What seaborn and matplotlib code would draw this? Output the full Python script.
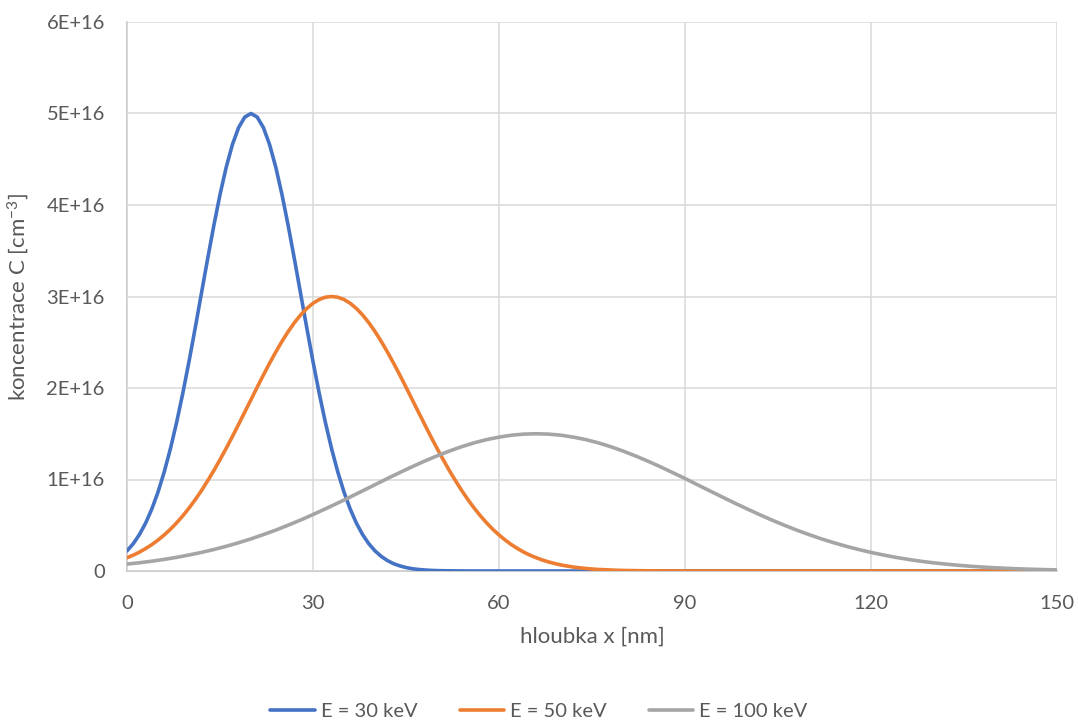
import matplotlib
matplotlib.use("Agg")
import matplotlib.pyplot as plt
from matplotlib.ticker import FuncFormatter
from matplotlib.lines import Line2D
import seaborn as sns
import pandas as pd

# depth grids in nm: 1 nm steps near the surface, 2 nm deeper down
depth_fine = list(range(0, 81)) + list(range(82, 151, 2))
depth_coarse = list(range(0, 151, 2))

# implanted concentration profiles, in units of 1E16 cm^-3
conc_30kev = [
    0.220, 0.298, 0.398, 0.523, 0.677, 0.862, 1.082, 1.336, 1.623, 1.943,
    2.289, 2.656, 3.033, 3.410, 3.774, 4.113, 4.412, 4.660, 4.846, 4.961,
    5.000, 4.961, 4.846, 4.660, 4.412, 4.113, 3.774, 3.410, 3.033, 2.656,
    2.289, 1.943, 1.623, 1.336, 1.082, 0.862, 0.677, 0.523, 0.398, 0.298,
    0.220, 0.160, 0.114, 0.080, 0.056, 0.038, 0.025, 0.017, 0.011, 0.007,
    0.004, 0.003, 0.002, 0.001, 0.001, 0.0, 0.0, 0.0, 0.0, 0.0,
    0.0, 0.0, 0.0, 0.0, 0.0, 0.0, 0.0, 0.0, 0.0, 0.0,
    0.0, 0.0, 0.0, 0.0, 0.0, 0.0, 0.0, 0.0, 0.0, 0.0,
    0.0,
    0.0, 0.0, 0.0, 0.0, 0.0, 0.0, 0.0, 0.0, 0.0, 0.0,
    0.0, 0.0, 0.0, 0.0, 0.0, 0.0, 0.0, 0.0, 0.0, 0.0,
    0.0, 0.0, 0.0, 0.0, 0.0, 0.0, 0.0, 0.0, 0.0, 0.0,
    0.0, 0.0, 0.0, 0.0, 0.0,
]
conc_50kev = [
    0.145, 0.173, 0.206, 0.245, 0.288, 0.338, 0.394, 0.456, 0.526, 0.603,
    0.687, 0.779, 0.878, 0.985, 1.097, 1.217, 1.341, 1.470, 1.603, 1.738,
    1.873, 2.009, 2.142, 2.271, 2.394, 2.510, 2.617, 2.714, 2.798, 2.869,
    2.926, 2.967, 2.992, 3.000, 2.992, 2.967, 2.926, 2.869, 2.798, 2.714,
    2.617, 2.510, 2.394, 2.271, 2.142, 2.009, 1.873, 1.738, 1.603, 1.470,
    1.341, 1.217, 1.097, 0.985, 0.878, 0.779, 0.687, 0.603, 0.526, 0.456,
    0.394, 0.338, 0.288, 0.245, 0.206, 0.173, 0.145, 0.120, 0.099, 0.081,
    0.066, 0.054, 0.043, 0.035, 0.028, 0.022, 0.017, 0.014, 0.011, 0.008,
    0.006,
    0.004, 0.002, 0.001, 0.001, 0.0, 0.0, 0.0, 0.0, 0.0, 0.0,
    0.0, 0.0, 0.0, 0.0, 0.0, 0.0, 0.0, 0.0, 0.0, 0.0,
    0.0, 0.0, 0.0, 0.0, 0.0, 0.0, 0.0, 0.0, 0.0, 0.0,
    0.0, 0.0, 0.0, 0.0, 0.0,
]
conc_100kev = [
    0.076, 0.090, 0.107, 0.127, 0.149, 0.175, 0.203, 0.235, 0.270, 0.309,
    0.351, 0.398, 0.447, 0.501, 0.557, 0.617, 0.679, 0.743, 0.809, 0.876,
    0.943, 1.011, 1.076, 1.140, 1.201, 1.258, 1.311, 1.359, 1.401, 1.436,
    1.463, 1.484, 1.496, 1.500, 1.496, 1.484, 1.463, 1.436, 1.401, 1.359,
    1.311, 1.258, 1.201, 1.140, 1.076, 1.011, 0.943, 0.876, 0.809, 0.743,
    0.679, 0.617, 0.557, 0.501, 0.447, 0.398, 0.351, 0.309, 0.270, 0.235,
    0.203, 0.175, 0.149, 0.127, 0.107, 0.090, 0.076, 0.063, 0.052, 0.043,
    0.035, 0.029, 0.023, 0.019, 0.015, 0.012,
]
UNIT = 1e16

series_names = ["E = 30 keV", "E = 50 keV", "E = 100 keV"]
series_colors = ["#4472C4", "#ED7D31", "#A5A5A5"]
x_ticks = [0, 30, 60, 90, 120, 150]
y_ticks = [0, 1e16, 2e16, 3e16, 4e16, 5e16, 6e16]

frames = []
for name, xs, vals in zip(series_names,
                          [depth_fine, depth_fine, depth_coarse],
                          [conc_30kev, conc_50kev, conc_100kev]):
    frames.append(pd.DataFrame({
        "depth": xs,
        "conc": [v * UNIT for v in vals],
        "series": name,
    }))
df = pd.concat(frames, ignore_index=True)

sns.set_theme(style="white")
plt.rcParams["font.family"] = ["Lato", "DejaVu Sans"]
plt.rcParams["mathtext.default"] = "regular"

text_color = "#595959"
grid_color = "#D9D9D9"
line_w = 2.6

fig = plt.figure(figsize=(10.78, 7.23), dpi=100)
ax = fig.add_axes([127 / 1078, 1 - 571 / 723, 930 / 1078, 549 / 723])

sns.lineplot(data=df, x="depth", y="conc", hue="series",
             hue_order=series_names, palette=series_colors,
             linewidth=line_w, ax=ax, legend=False, estimator=None, sort=False)
for ln in ax.lines:
    ln.set_solid_capstyle("round")
    ln.set_solid_joinstyle("round")

ax.set_xlim(0, 150)
ax.set_ylim(0, 6e16)
ax.set_xticks(x_ticks)
ax.set_yticks(y_ticks)
ax.yaxis.set_major_formatter(FuncFormatter(
    lambda v, _: "0" if v == 0 else f"{v / 1e16:.0f}E+16"))

ax.grid(True, color=grid_color, linewidth=1.1)
ax.set_axisbelow(True)
for side in ["top", "right"]:
    ax.spines[side].set_visible(False)
for side in ["left", "bottom"]:
    ax.spines[side].set_color("#BFBFBF")
    ax.spines[side].set_linewidth(1.1)
    ax.spines[side].set_zorder(0.5)

ax.tick_params(axis="both", length=0, labelsize=14.5, labelcolor=text_color)
ax.tick_params(axis="x", pad=17)
ax.tick_params(axis="y", pad=16)

ax.set_xlabel("hloubka x [nm]", fontsize=16, color=text_color, labelpad=11)
ax.set_ylabel("koncentrace C [cm$^{-3}$]", fontsize=16, color=text_color,
              labelpad=11)

handles = [Line2D([0], [0], color=c, linewidth=line_w) for c in series_colors]
fig.legend(handles, series_names, loc="center", ncol=3,
           bbox_to_anchor=(0.5, 1 - 711 / 723), frameon=False,
           fontsize=14.5, labelcolor=text_color, handlelength=2.2,
           handletextpad=0.3, columnspacing=2.1)

fig.savefig("out.png", dpi=100)
